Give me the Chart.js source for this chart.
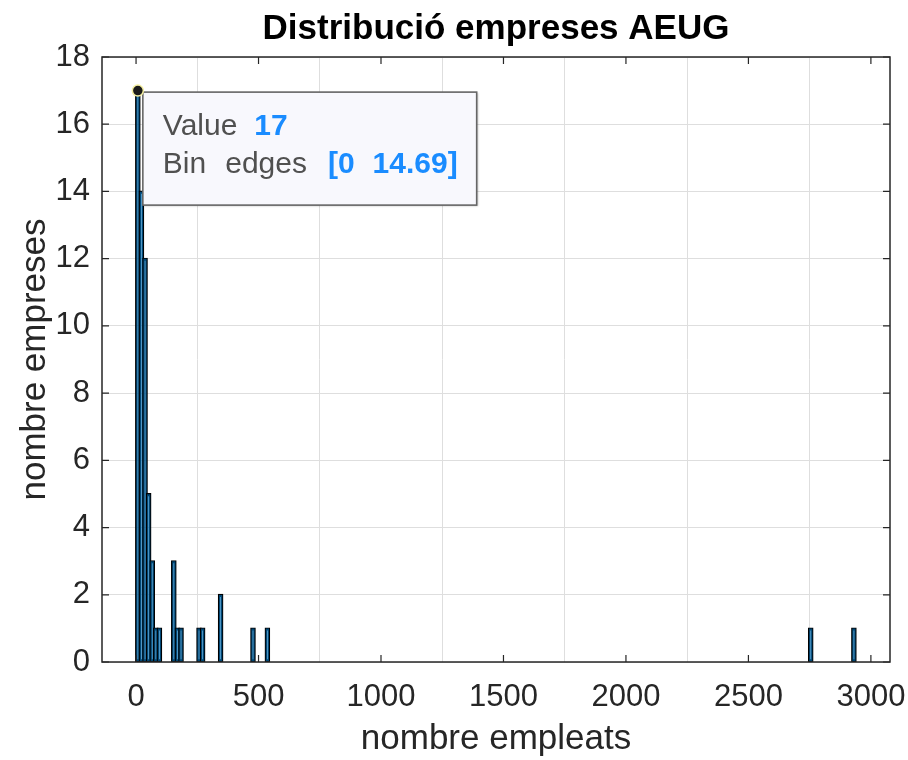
<!DOCTYPE html>
<html><head><meta charset="utf-8">
<script src="https://cdn.jsdelivr.net/npm/chart.js@4.4.1/dist/chart.umd.min.js"></script>
<style>html,body{margin:0;padding:0;background:#fff;}#wrap{position:relative;width:908px;height:760px;}</style>
</head><body><div id="wrap"><canvas id="c" width="908" height="760"></canvas></div>
<script>
// ---- data ----
const binWidth = 14.69;
const binCount = 200;
const binIndex  = [0, 1, 2, 3, 4, 5, 6, 10, 11, 12, 17, 18, 23, 32, 36, 187, 199];
const binCounts = [17, 14, 12, 5, 3, 1, 1, 3, 1, 1, 1, 1, 2, 1, 1, 1, 1];
const xTicks = [0, 500, 1000, 1500, 2000, 2500, 3000];
const yTicks = [0, 2, 4, 6, 8, 10, 12, 14, 16, 18];
const xLimits = [-139, 3078];
const yLimits = [0, 18];
const titleText = 'Distribució empreses AEUG';
const xLabel = 'nombre empleats';
const yLabel = 'nombre empreses';
const tipBin = 0;

const FONT = "'Liberation Sans', Arial, Helvetica, sans-serif";
const AX = '#262626';

const counts = new Array(binCount).fill(null);
binIndex.forEach((b, i) => { counts[b] = binCounts[i]; });
const points = counts.map((c, i) => ({ x: (i + 0.5) * binWidth, y: c }));

const framePlugin = {
  id: 'frame',
  afterDatasetsDraw(chart) {
    const { ctx, chartArea: a, scales: { x, y } } = chart;
    ctx.save();
    ctx.strokeStyle = AX;
    ctx.lineWidth = 1.5;
    ctx.strokeRect(a.left, a.top, a.right - a.left, a.bottom - a.top);
    ctx.lineWidth = 1.2;
    ctx.beginPath();
    xTicks.forEach(v => {
      const px = x.getPixelForValue(v);
      ctx.moveTo(px, a.bottom); ctx.lineTo(px, a.bottom - 7);
      ctx.moveTo(px, a.top); ctx.lineTo(px, a.top + 7);
    });
    yTicks.forEach(v => {
      const py = y.getPixelForValue(v);
      ctx.moveTo(a.left, py); ctx.lineTo(a.left + 7, py);
      ctx.moveTo(a.right, py); ctx.lineTo(a.right - 7, py);
    });
    ctx.stroke();
    ctx.restore();
  },
  afterDraw(chart) {
    const { ctx, scales: { x, y } } = chart;
    const lo = binIndex[tipBin] * binWidth, hi = lo + binWidth;
    const val = counts[binIndex[tipBin]];
    const px = x.getPixelForValue((lo + hi) / 2);
    const py = y.getPixelForValue(val);
    const reg = '30px ' + FONT, bold = 'bold 30px ' + FONT;
    // line pieces: [text, font, colour, gap before]
    const line1 = [['Value', reg, '#505050', 0], [String(val), bold, '#1a8cff', 17]];
    const line2 = [['Bin', reg, '#505050', 0], ['edges', reg, '#505050', 19],
                   ['[' + lo, bold, '#1a8cff', 21], [hi.toFixed(2) + ']', bold, '#1a8cff', 18]];
    ctx.save();
    const widthOf = line => line.reduce((s, p) => { ctx.font = p[1]; return s + p[3] + ctx.measureText(p[0]).width; }, 0);
    const tw = Math.max(widthOf(line1), widthOf(line2));
    const bx = px + 5, by = py + 1.5, bw = 20 + tw + 19, bh = 113;
    ctx.shadowColor = 'rgba(0,0,0,0.25)';
    ctx.shadowOffsetX = 1; ctx.shadowOffsetY = 1; ctx.shadowBlur = 2;
    ctx.fillStyle = '#f8f8fd';
    ctx.fillRect(bx, by, bw, bh);
    ctx.shadowColor = 'transparent';
    ctx.strokeStyle = '#666';
    ctx.lineWidth = 1.6;
    ctx.strokeRect(bx, by, bw, bh);
    ctx.textBaseline = 'alphabetic';
    ctx.textAlign = 'left';
    const drawLine = (line, yy) => {
      let cx = bx + 20;
      line.forEach(p => {
        cx += p[3];
        ctx.font = p[1]; ctx.fillStyle = p[2];
        ctx.fillText(p[0], cx, yy);
        cx += ctx.measureText(p[0]).width;
      });
    };
    drawLine(line1, by + 43);
    drawLine(line2, by + 81);
    // marker
    ctx.beginPath();
    ctx.arc(px, py, 5.5, 0, Math.PI * 2);
    ctx.fillStyle = '#1a1a1a';
    ctx.fill();
    ctx.strokeStyle = '#f3eea0';
    ctx.lineWidth = 1.5;
    ctx.stroke();
    ctx.restore();
  }
};

new Chart(document.getElementById('c'), {
  type: 'bar',
  data: {
    datasets: [{
      data: points,
      backgroundColor: 'rgba(0,114,189,0.62)',
      borderColor: '#000',
      borderWidth: 1.2,
      borderSkipped: false,
      inflateAmount: 1,
      categoryPercentage: 1,
      barPercentage: 1
    }]
  },
  options: {
    responsive: false,
    animation: false,
    events: [],
    layout: { padding: { left: 0, right: 18, top: 0, bottom: 0 } },
    plugins: {
      legend: { display: false },
      tooltip: { enabled: false },
      title: {
        display: true, text: titleText, color: '#000', fullSize: false,
        font: { family: FONT, size: 35, weight: 'bold', lineHeight: 1.2 },
        padding: { top: 8, bottom: 7 }
      }
    },
    scales: {
      x: {
        type: 'linear', min: xLimits[0], max: xLimits[1], offset: false,
        grid: { color: '#dedede', lineWidth: 1, drawTicks: false },
        border: { display: false },
        ticks: { color: AX, font: { family: FONT, size: 31 }, padding: 17, maxRotation: 0,
                 callback: v => String(v) },
        afterBuildTicks: s => { s.ticks = xTicks.map(v => ({ value: v })); },
        afterFit: s => { s.height = 98; s.paddingLeft = 0; s.paddingRight = 0; },
        title: { display: true, text: xLabel, color: AX, font: { family: FONT, size: 35, lineHeight: 1.2 }, padding: { top: 0, bottom: 0 } }
      },
      y: {
        min: yLimits[0], max: yLimits[1],
        grid: { color: '#dedede', lineWidth: 1, drawTicks: false },
        border: { display: false },
        ticks: { color: AX, font: { family: FONT, size: 31 }, padding: 12, callback: v => String(v) },
        afterBuildTicks: s => { s.ticks = yTicks.map(v => ({ value: v })); },
        afterFit: s => { s.width = 102; s.paddingTop = 0; s.paddingBottom = 0; },
        title: { display: true, text: yLabel, color: AX, font: { family: FONT, size: 35, lineHeight: 1.2 }, padding: { top: 14, bottom: 0 } }
      }
    }
  },
  plugins: [framePlugin]
});
</script></body></html>
